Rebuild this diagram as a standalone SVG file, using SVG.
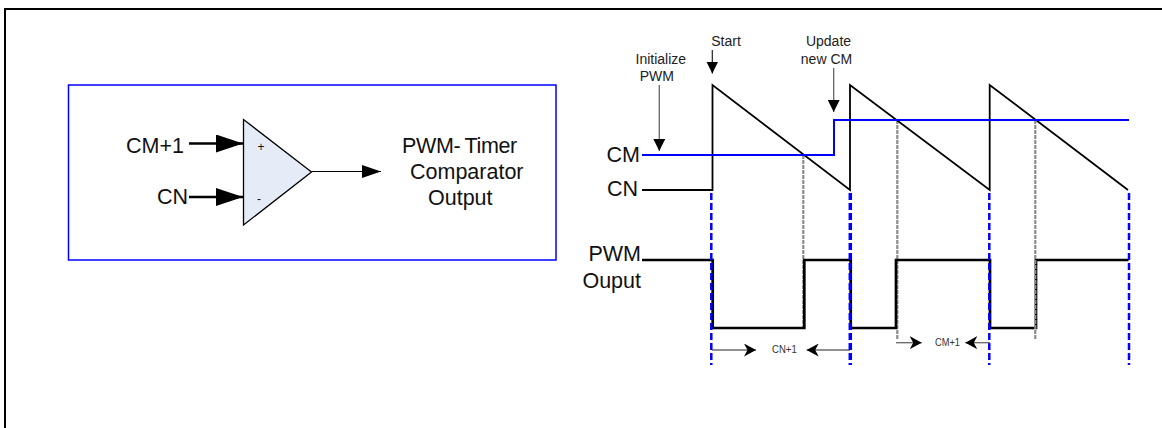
<svg xmlns="http://www.w3.org/2000/svg" width="1162" height="428" viewBox="0 0 1162 428">
<defs>
<marker id="ah" markerUnits="userSpaceOnUse" markerWidth="27" markerHeight="18" refX="27" refY="9" orient="auto"><path d="M0 0L27 9L0 18Z" fill="#000"/></marker>
<marker id="ao" markerUnits="userSpaceOnUse" markerWidth="19" markerHeight="13" refX="19" refY="6.500" orient="auto"><path d="M0 0L19 6.500L0 13Z" fill="#000"/></marker>
<marker id="am" markerUnits="userSpaceOnUse" markerWidth="12" markerHeight="12" refX="12" refY="6" orient="auto"><path d="M0 0L12 6L0 12Z" fill="#000"/></marker>
<marker id="as" markerUnits="userSpaceOnUse" markerWidth="12" markerHeight="13" refX="12" refY="6.500" orient="auto"><path d="M0 0L12 6.500L0 13L3.500 6.500Z" fill="#000"/></marker>
</defs>
<style>
text{font-family:"Liberation Sans",Arial,sans-serif;fill:#111}
.l{font-size:21.500px}.m{font-size:14px;fill:#222}.s{font-size:11.500px;fill:#333}
.ln{fill:none;stroke:#000}
.sw{fill:none;stroke:#000;stroke-width:1.800}
.pwm{fill:none;stroke:#000;stroke-width:2.700}
.blue{fill:none;stroke:#0000ff;stroke-width:2}
.vb{stroke:#0000ff;stroke-width:2.500;stroke-dasharray:7 3;fill:none}
.vg{stroke:#8c8c8c;stroke-width:2.200;stroke-dasharray:4 1;fill:none}
.ar{stroke:#222;stroke-width:1.200;fill:none}
.ga{stroke:#666;stroke-width:1.300;fill:none}
</style>
<path id="frame" d="M5 428V9H1162" fill="none" stroke="#000" stroke-width="2"/>
<g id="comparator-box"><rect x="68.500" y="85" width="487.500" height="175" fill="#fff" stroke="#0000ff" stroke-width="1.500"/></g>
<g id="comparator"><path d="M243.500 119.500V225L311.500 172Z" fill="#e6ecf7" stroke="#000" stroke-width="1.300"/>
<text x="261" y="151" text-anchor="middle" font-size="12">+</text><text x="259" y="203" text-anchor="middle" font-size="12">-</text></g>
<g id="labels-left">
<text class="l" x="184" y="153" text-anchor="end">CM+1</text>
<text class="l" x="188" y="204" text-anchor="end">CN</text>
<text class="l"><tspan x="402" y="153" letter-spacing="-0.350" word-spacing="-1">PWM- Timer</tspan><tspan x="410" y="179">Comparator</tspan><tspan x="428" y="205">Output</tspan></text>
</g>
<g id="wave-labels">
<text class="m" x="726" y="46" text-anchor="middle">Start</text>
<text class="m" x="828.500" y="46" text-anchor="middle">Update</text>
<text class="m" x="826.500" y="64" text-anchor="middle">new CM</text>
<text class="m" x="660.800" y="64" text-anchor="middle">Initialize</text>
<text class="m" x="656.800" y="81" text-anchor="middle">PWM</text>
<text class="l" x="640" y="162" text-anchor="end">CM</text>
<text class="l" x="638" y="196" text-anchor="end">CN</text>
<text class="l" x="641" y="261" text-anchor="end">PWM</text>
<text class="l" x="641" y="288" text-anchor="end">Ouput</text>
<text class="s" x="772" y="352.500" textLength="24.700" lengthAdjust="spacingAndGlyphs">CN+1</text>
<text class="s" x="935" y="346" textLength="25" lengthAdjust="spacingAndGlyphs">CM+1</text>
</g>
<g id="connectors">
<path class="ln" stroke-width="2.500" d="M189 143.500H243" marker-end="url(#ah)"/>
<path class="ln" stroke-width="2.500" d="M189 197H243" marker-end="url(#ah)"/>
<path class="ln" stroke-width="1" d="M311.500 171.500H381" marker-end="url(#ao)"/>
<path class="ar" d="M712.300 50V73.500" marker-end="url(#am)"/>
<path class="ga" d="M659.300 85V151" marker-end="url(#am)"/>
<path class="ga" d="M833.700 68V112" marker-end="url(#am)"/>
<path class="vg" d="M803.300 155V328M897.300 120V339"/>
<path class="sw" d="M642 190H712.500V85L850 190V85L989.700 190V85L1128 190"/>
<path class="pwm" d="M642 260H712.700V328H804.300V260H850.700V328H896V260H990V328H1036V260H1128.500"/>
<path class="vg" d="M1035.300 120V339"/>
<path class="blue" d="M642 155H834V120H1129"/>
<path class="vb" d="M711.300 193V365M989.300 193V365M1129 193V365"/>
<path class="vb" style="stroke-width:3.500" d="M850.300 193V365"/>
<path class="ar" d="M712 350H756" marker-end="url(#as)"/>
<path class="ar" d="M850 350H806.700" marker-end="url(#as)"/>
<path class="ga" d="M896 342.700H921.700" marker-end="url(#as)"/>
<path class="ga" d="M990 342.700H965.300" marker-end="url(#as)"/>
</g>
</svg>
